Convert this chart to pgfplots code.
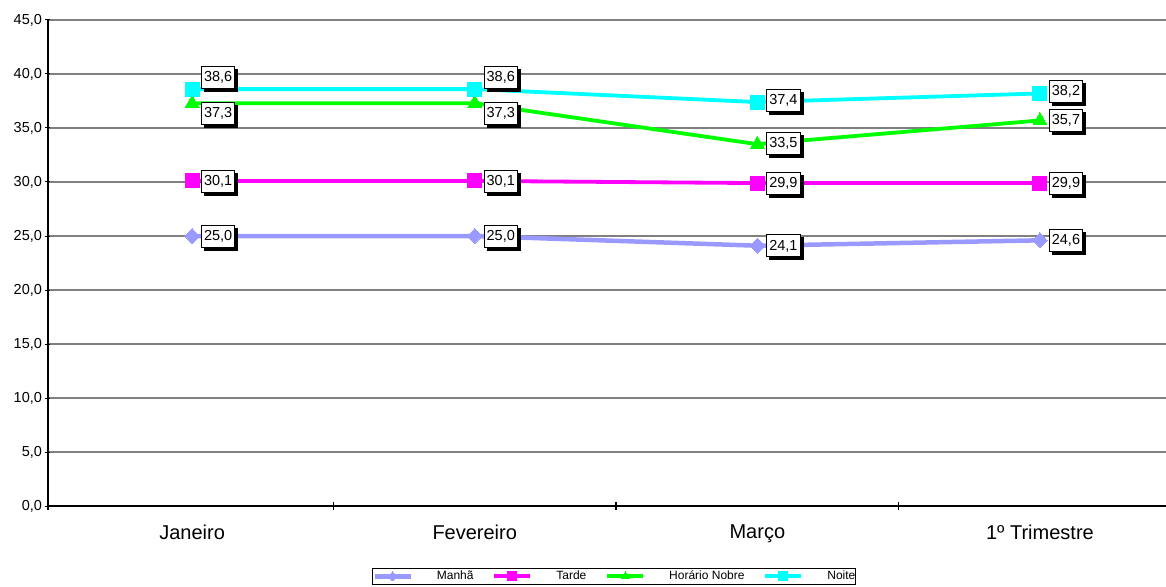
\documentclass[border=0pt]{standalone}
\usepackage{fontspec}
\setmainfont{Liberation Sans}
\usepackage{pgfplots}
\usepackage{pgfplotstable}
\pgfplotsset{compat=1.18}
\usetikzlibrary{shadows}
\definecolor{cmanha}{HTML}{9999FF}
\definecolor{ctarde}{HTML}{FF00FF}
\definecolor{cnobre}{HTML}{00FF00}
\definecolor{cnoite}{HTML}{00FFFF}
\definecolor{cgrid}{HTML}{808080}

\pgfplotstableread{
x y dy
0 25.0 0
1 25.0 0
2 24.1 0
3 24.6 0
}\manha
\pgfplotstableread{
x y dy
0 30.1 0
1 30.1 0
2 29.9 0
3 29.9 0
}\tarde
\pgfplotstableread{
x y dy
0 37.3 -10
1 37.3 -10
2 33.5 1
3 35.7 0
}\nobre
\pgfplotstableread{
x y dy
0 38.6 12
1 38.6 12
2 37.4 2
3 38.2 2
}\noite

\begin{document}
\begin{tikzpicture}
\begin{axis}[
  at={(0,0)}, anchor=south west,
  scale only axis,
  width=1118pt, height=486pt,
  xmin=-0.51, xmax=3.446,
  ymin=0, ymax=45,
  ytick={0,5,...,45},
  xtick={0,1,2,3},
  xticklabels={Janeiro,Fevereiro,Março,1º Trimestre},
  minor xtick={-0.51,0.5,1.5,2.5},
  major x tick style={draw=none},
  minor x tick style={draw=black, line width=1.2pt},
  major tick length=5pt,
  minor tick length=8pt,
  tick align=outside,
  ytick style={draw=black, line width=1pt},
  axis x line=bottom, axis y line=left,
  axis line style={-, black, line width=1.2pt},
  ymajorgrids,
  major grid style={cgrid, line width=1.3pt},
  yticklabel style={font=\fontsize{14.5}{16}\selectfont, /pgf/number format/.cd, fixed, fixed zerofill, precision=1, use comma, assume math mode=true},
  xticklabel style={font=\fontsize{20}{22}\selectfont, yshift=-13pt},
  clip=false,
  nodes near coords={\pgfmathprintnumber[fixed, fixed zerofill, precision=1, use comma, assume math mode=true]{\pgfplotspointmeta}},
  visualization depends on={\thisrow{dy} \as \dy},
  every node near coord/.append style={
    anchor=west, xshift=9pt, yshift=\dy pt,
    font=\fontsize{14.5}{16}\selectfont, text=black,
    draw=black, line width=0.8pt, fill=white,
    text height=11pt, text depth=2pt, inner xsep=2.5pt, inner ysep=4.5pt,
    drop shadow={shadow xshift=3pt, shadow yshift=-3pt, fill=black, opacity=1}},
  legend columns=4,
  legend style={at={(0.2898,-0.128)}, anchor=north west,
    draw=black, line width=0.8pt, inner xsep=0pt, inner ysep=1pt,
    font=\fontsize{12}{13}\selectfont,
    nodes={inner xsep=0pt, inner ysep=1.5pt},
    /tikz/every odd column/.append style={column sep=24pt},
    /tikz/every even column/.append style={column sep=19pt}},
  legend image code/.code={%
    \draw[mark repeat=2, mark phase=2, mark size=4.5pt, #1]
      plot coordinates {(0pt,0pt) (18pt,0pt) (36pt,0pt)};},
]
\addplot[cmanha, line width=4.5pt, mark=diamond*, mark size=7.5pt, mark options={line width=0pt, xscale=1.3}] table[x=x,y=y] {\manha};
\addlegendentry{Manhã}
\addplot[ctarde, line width=3.8pt, mark=square*, mark size=7pt, mark options={line width=0pt}] table[x=x,y=y] {\tarde};
\addlegendentry{Tarde}
\addplot[cnobre, line width=3.8pt, mark=triangle*, mark size=8pt, mark options={line width=0pt}] table[x=x,y=y] {\nobre};
\addlegendentry{Horário Nobre}
\addplot[cnoite, line width=3.8pt, mark=square*, mark size=7pt, mark options={line width=0pt}] table[x=x,y=y] {\noite};
\addlegendentry{Noite}
\end{axis}
\pgfresetboundingbox
\path (-48pt,-80pt) rectangle (1118pt,506pt);
\end{tikzpicture}
\end{document}
